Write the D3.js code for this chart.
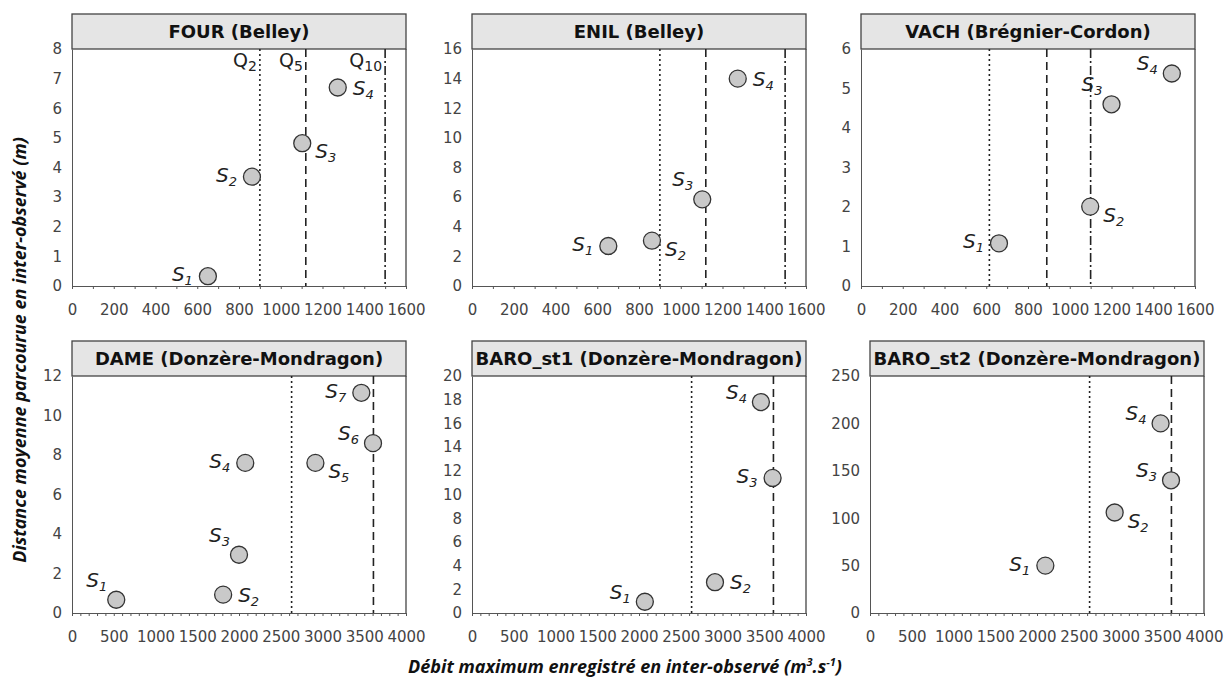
<!DOCTYPE html>
<html>
<head>
<meta charset="utf-8">
<script src="https://cdn.jsdelivr.net/npm/d3@7"></script>
<style>
  body { margin: 0; background: #fff; }
  svg { display: block; }
</style>
</head>
<body>
<div id="chart"></div>
<script>
// Panel settings
const panelTitles = ["FOUR (Belley)", "ENIL (Belley)", "VACH (Brégnier-Cordon)",
                     "DAME (Donzère-Mondragon)", "BARO_st1 (Donzère-Mondragon)", "BARO_st2 (Donzère-Mondragon)"];
const xMax = [1600, 1600, 1600, 4000, 4000, 4000];
const xStep = [200, 200, 200, 500, 500, 500];
const yMax = [8, 16, 6, 12, 20, 250];
const yStep = [1, 2, 1, 2, 2, 50];

// Flood discharge thresholds (Q2 dotted, Q5 dashed, Q10 dash-dot)
const q2 = [900, 900, 615, 2630, 2630, 2630];
const q5 = [1120, 1120, 890, 3610, 3610, 3610];
const q10 = [1500, 1500, 1100, null, null, null];

// Points: discharge (x) vs mean travel distance (y)
const fourX = [651, 862, 1103, 1273];
const fourY = [0.33, 3.69, 4.82, 6.7];
const enilX = [653, 862, 1103, 1273];
const enilY = [2.7, 3.06, 5.85, 14.0];
const vachX = [661, 1098, 1200, 1489];
const vachY = [1.08, 2.01, 4.6, 5.38];
const dameX = [530, 1810, 2000, 2075, 2915, 3605, 3465];
const dameY = [0.67, 0.93, 2.95, 7.6, 7.6, 8.6, 11.15];
const baro1X = [2070, 2910, 3600, 3460];
const baro1Y = [0.95, 2.6, 11.4, 17.8];
const baro2X = [2100, 2930, 3605, 3480];
const baro2Y = [50, 106, 140, 200];

const seriesX = [fourX, enilX, vachX, dameX, baro1X, baro2X];
const seriesY = [fourY, enilY, vachY, dameY, baro1Y, baro2Y];

// Where each S label sits around its point
const labelSides = [
  ["l", "l", "dr", "r"],
  ["l", "dr", "ul", "r"],
  ["l", "dr", "ul", "lu"],
  ["ul", "r", "ul", "l", "dr", "lu", "l"],
  ["lu", "r", "l", "lu"],
  ["l", "dr", "lu", "lu"]
];

const W = 1227, H = 689;
const svg = d3.select("#chart").append("svg").attr("width", W).attr("height", H);

// panel boxes
const lefts = [72, 472, 861, 72, 472, 870];
const tops = [14, 14, 14, 341, 341, 341];
const pw = 334, titleH = 35, plotH = 237;

const sideOffsets = {
  l:  { dx: -15, dy: 5, anchor: "end" },
  lu: { dx: -14, dy: -3, anchor: "end" },
  ul: { dx: -9, dy: -13, anchor: "end" },
  r:  { dx: 15, dy: 7, anchor: "start" },
  dr: { dx: 13, dy: 15, anchor: "start" }
};

panelTitles.forEach((title, p) => {
  const x0 = lefts[p], t0 = tops[p];
  const plotTop = t0 + titleH, plotBottom = plotTop + plotH;
  const x = d3.scaleLinear().domain([0, xMax[p]]).range([x0, x0 + pw]);
  const y = d3.scaleLinear().domain([0, yMax[p]]).range([plotBottom, plotTop]);
  const g = svg.append("g");

  // Title box
  g.append("rect")
    .attr("x", x0).attr("y", t0).attr("width", pw).attr("height", titleH)
    .attr("fill", "#e5e5e5").attr("stroke", "#444").attr("stroke-width", 1.3);
  g.append("text")
    .attr("x", x0 + pw / 2).attr("y", t0 + titleH / 2 + 6.5)
    .attr("text-anchor", "middle")
    .style("font-family", "DejaVu Sans").style("font-weight", "bold").style("font-size", "18px")
    .attr("fill", "#111")
    .text(title);

  // Plot frame right side
  g.append("line")
    .attr("x1", x0 + pw).attr("x2", x0 + pw).attr("y1", plotTop).attr("y2", plotBottom)
    .attr("stroke", "#444").attr("stroke-width", 1.3);

  // Minor ticks every 100 on x axis
  const minor = d3.range(0, xMax[p] + 1, 100);
  g.append("g")
    .attr("transform", `translate(0,${plotBottom})`)
    .call(d3.axisBottom(x).tickValues(minor).tickSize(3).tickFormat(""))
    .call(a => a.selectAll("line").attr("stroke", "#555"))
    .call(a => a.select(".domain").attr("stroke", "#555"));

  // Major labels
  g.append("g")
    .attr("transform", `translate(0,${plotBottom})`)
    .call(d3.axisBottom(x).tickValues(d3.range(0, xMax[p] + 1, xStep[p])).tickSize(0).tickPadding(18).tickFormat(d3.format("d")))
    .call(a => a.select(".domain").remove())
    .call(a => a.selectAll("text").style("font-family", "DejaVu Sans").style("font-size", "15px").attr("fill", "#444"));

  // Y axis
  g.append("g")
    .attr("transform", `translate(${x0},0)`)
    .call(d3.axisLeft(y).tickValues(d3.range(0, yMax[p] + 1, yStep[p])).tickSize(0).tickPadding(10).tickFormat(d3.format("d")))
    .call(a => a.select(".domain").attr("stroke", "#555"))
    .call(a => a.selectAll("text").style("font-family", "DejaVu Sans").style("font-size", "15px").attr("fill", "#444"));

  // Threshold lines
  const qLines = [
    { v: q2[p], dash: "2,3", name: "2" },
    { v: q5[p], dash: "8,5", name: "5" },
    { v: q10[p], dash: "9,3,2,3", name: "10" }
  ].filter(d => d.v != null);

  g.selectAll(".q").data(qLines).enter().append("line")
    .attr("x1", d => x(d.v)).attr("x2", d => x(d.v))
    .attr("y1", plotTop).attr("y2", plotBottom)
    .attr("stroke", "#222").attr("stroke-width", 1.6)
    .attr("stroke-dasharray", d => d.dash);

  // Q labels only on the first panel
  if (p === 0) {
    const ql = g.selectAll(".qlab").data(qLines).enter().append("text")
      .attr("x", d => x(d.v) - 3).attr("y", plotTop + 18)
      .attr("text-anchor", "end")
      .style("font-family", "DejaVu Sans").style("font-size", "19px")
      .attr("fill", "#222");
    ql.append("tspan").text("Q");
    ql.append("tspan").attr("dy", 4).style("font-size", "14px").text(d => d.name);
  }

  // Points
  const pts = seriesX[p].map((v, i) => ({ x: v, y: seriesY[p][i], i: i }));
  g.selectAll("circle").data(pts).enter().append("circle")
    .attr("cx", d => x(d.x)).attr("cy", d => y(d.y)).attr("r", 8.5)
    .attr("fill", "#c9c9c9").attr("stroke", "#333").attr("stroke-width", 1.3);

  const labs = g.selectAll(".slab").data(pts).enter().append("text")
    .attr("x", d => x(d.x) + sideOffsets[labelSides[p][d.i]].dx)
    .attr("y", d => y(d.y) + sideOffsets[labelSides[p][d.i]].dy)
    .attr("text-anchor", d => sideOffsets[labelSides[p][d.i]].anchor)
    .style("font-family", "DejaVu Sans").style("font-style", "italic").style("font-size", "20px")
    .attr("fill", "#222");
  labs.append("tspan").text("S");
  labs.append("tspan").attr("dy", 4).style("font-size", "13px").text(d => d.i + 1);
});

// Axis titles
svg.append("text")
  .attr("transform", "translate(26,350) rotate(-90)")
  .attr("text-anchor", "middle")
  .style("font-family", "Open Sans").style("font-weight", "bold").style("font-style", "italic").style("font-size", "18px")
  .attr("fill", "#111")
  .text("Distance moyenne parcourue en inter-observé (m)");

const xt = svg.append("text")
  .attr("x", 625).attr("y", 673)
  .attr("text-anchor", "middle")
  .style("font-family", "Open Sans").style("font-weight", "bold").style("font-style", "italic").style("font-size", "18px")
  .attr("fill", "#111");
xt.append("tspan").text("Débit maximum enregistré en inter-observé (m");
xt.append("tspan").attr("dy", -7).style("font-size", "11px").text("3");
xt.append("tspan").attr("dy", 7).text(".s");
xt.append("tspan").attr("dy", -7).style("font-size", "11px").text("-1");
xt.append("tspan").attr("dy", 7).text(")");
</script>
</body>
</html>
